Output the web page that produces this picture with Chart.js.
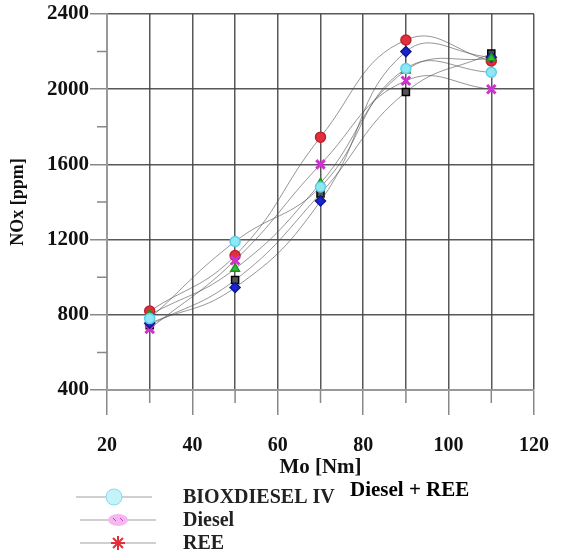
<!DOCTYPE html>
<html>
<head>
<meta charset="utf-8">
<script src="https://cdn.jsdelivr.net/npm/chart.js@4"></script>
<style>
body{margin:0;background:#fff}
</style>
</head>
<body>
<canvas id="nox" width="568" height="559"></canvas>
<script>
// NOx vs torque
const torque = [30, 50, 70, 90, 110];
const bioxIV = [780, 1190, 1480, 2110, 2090];
const diesel = [725, 1090, 1600, 2045, 2000];
const ree = [820, 1115, 1745, 2262, 2150];
const blueSeries = [755, 945, 1405, 2200, 2170];
const greenSeries = [800, 1045, 1500, 2100, 2165];
const blackSeries = [745, 985, 1445, 1985, 2190];
const xTicks = [20, 40, 60, 80, 100, 120];
const yTicks = [400, 800, 1200, 1600, 2000, 2400];
const legendNames = ['BIOXDIESEL IV', 'Diesel', 'REE'];
const note = 'Diesel + REE';

const serif = "'Liberation Serif', 'DejaVu Serif', serif";

function pts(vals){
    return torque.map((t, i) => ({x: t, y: vals[i]}));
}
function ds(label, vals, style, fill, stroke, r, bw){
    return {
        label: label,
        data: pts(vals),
        pointStyle: style,
        pointBackgroundColor: fill,
        pointBorderColor: stroke,
        pointRadius: r,
        pointBorderWidth: bw || 1.5,
        borderColor: 'rgba(80,80,80,0.6)',
        borderWidth: 1,
        tension: 0.45,
        fill: false
    };
}

const minorTicks = {
    id: 'minorTicks',
    afterDraw(chart){
        const {ctx, chartArea: a, scales: {x, y}} = chart;
        ctx.save();
        ctx.strokeStyle = '#888';
        ctx.lineWidth = 1.5;
        ctx.beginPath();
        x.ticks.forEach(t => {
            if (!xTicks.includes(t.value)) {
                const px = x.getPixelForValue(t.value);
                ctx.moveTo(px, a.bottom); ctx.lineTo(px, a.bottom + 13);
            }
        });
        y.ticks.forEach(t => {
            if (!yTicks.includes(t.value)) {
                const py = y.getPixelForValue(t.value);
                ctx.moveTo(a.left - 10, py); ctx.lineTo(a.left, py);
            }
        });
        ctx.stroke();
        ctx.restore();
    }
};

// legend drawn under the axis title, one row per entry
const rowLegend = {
    id: 'rowLegend',
    afterDraw(chart){
        const ctx = chart.ctx;
        ctx.save();
        legendNames.forEach((name, i) => {
            const cy = 497 + i * 23;
            const x0 = i === 0 ? 76 : 80;
            ctx.strokeStyle = 'rgba(120,120,120,0.7)';
            ctx.lineWidth = 1;
            ctx.beginPath(); ctx.moveTo(x0, cy); ctx.lineTo(x0 + 76, cy); ctx.stroke();
            const mx = x0 + 38;
            if (i === 0) {
                ctx.fillStyle = '#c6f3fa';
                ctx.strokeStyle = '#7fdcec';
                ctx.beginPath(); ctx.arc(mx, cy, 8, 0, Math.PI * 2); ctx.fill(); ctx.stroke();
            } else if (i === 1) {
                ctx.fillStyle = '#f6b6f0';
                ctx.beginPath(); ctx.ellipse(mx, cy, 10, 6, 0, 0, Math.PI * 2); ctx.fill();
                ctx.strokeStyle = '#c040c0';
                ctx.beginPath();
                ctx.moveTo(mx - 5, cy - 2); ctx.lineTo(mx - 2, cy + 1);
                ctx.moveTo(mx + 2, cy - 2); ctx.lineTo(mx + 5, cy + 1);
                ctx.stroke();
            } else {
                ctx.strokeStyle = '#e0303c';
                ctx.lineWidth = 2;
                ctx.beginPath();
                for (let k = 0; k < 4; k++) {
                    const ang = k * Math.PI / 4;
                    ctx.moveTo(mx - 7 * Math.cos(ang), cy - 7 * Math.sin(ang));
                    ctx.lineTo(mx + 7 * Math.cos(ang), cy + 7 * Math.sin(ang));
                }
                ctx.stroke();
            }
            ctx.fillStyle = '#222';
            ctx.font = 'bold 20px ' + serif;
            ctx.textBaseline = 'middle';
            ctx.fillText(name, 183, cy + 1);
        });
        ctx.fillStyle = '#000';
        ctx.font = 'bold 21px ' + serif;
        ctx.textBaseline = 'middle';
        ctx.fillText(note, 350, 491);
        ctx.restore();
    }
};

const noxChart = new Chart(document.getElementById('nox').getContext('2d'), {
    type: 'line',
    data: {
        datasets: [
            ds('BIOXDIESEL IV', bioxIV, 'circle', '#8fe6f4', '#5ad0e6', 5),
            ds('S4', greenSeries, 'triangle', '#30c030', '#209020', 5),
            ds('S5', blueSeries, 'rectRot', '#1a24d0', '#101890', 5),
            ds('Diesel', diesel, 'crossRot', '#e040e0', '#d030d0', 6, 3),
            ds('REE', ree, 'circle', '#e0303c', '#c02030', 5),
            ds('S6', blackSeries, 'rect', '#555', '#000', 5)
        ]
    },
    options: {
        responsive: false,
        animation: false,
        layout: {padding: {left: 0, right: 31, top: 14, bottom: 79}},
        plugins: {
            legend: {display: false},
            tooltip: {enabled: false}
        },
        scales: {
            x: {
                type: 'linear',
                min: 20,
                max: 120,
                afterFit: s => { s.height = 90; },
                ticks: {
                    stepSize: 10,
                    padding: 19,
                    maxRotation: 0,
                    autoSkip: false,
                    color: '#111',
                    font: {family: serif, size: 20, weight: 'bold'},
                    callback: v => xTicks.includes(v) ? v : ''
                },
                grid: {
                    color: 'rgba(70,70,70,0.9)',
                    lineWidth: 1.5,
                    tickLength: 25,
                    tickColor: c => xTicks.includes(c.tick.value) ? '#888' : 'rgba(0,0,0,0)'
                },
                border: {display: true, color: '#999', width: 2},
                title: {
                    display: true,
                    text: 'Mo [Nm]',
                    color: '#111',
                    padding: {top: 0, bottom: 0},
                    font: {family: serif, size: 21, weight: 'bold'}
                }
            },
            y: {
                min: 400,
                max: 2400,
                afterFit: s => { s.width = 107; },
                ticks: {
                    stepSize: 200,
                    padding: 1,
                    color: '#111',
                    font: {family: serif, size: 21, weight: 'bold'},
                    callback: v => yTicks.includes(v) ? v : ''
                },
                grid: {
                    color: c => yTicks.includes(c.tick.value) ? 'rgba(70,70,70,0.9)' : 'rgba(0,0,0,0)',
                    lineWidth: 1.5,
                    tickLength: 17,
                    tickColor: c => yTicks.includes(c.tick.value) ? '#888' : 'rgba(0,0,0,0)'
                },
                border: {display: true, color: '#999', width: 2},
                title: {
                    display: true,
                    text: 'NOx [ppm]',
                    color: '#111',
                    padding: {top: 8, bottom: 0},
                    font: {family: serif, size: 18, weight: 'bold'}
                }
            }
        }
    },
    plugins: [minorTicks, rowLegend]
});
</script>
</body>
</html>
